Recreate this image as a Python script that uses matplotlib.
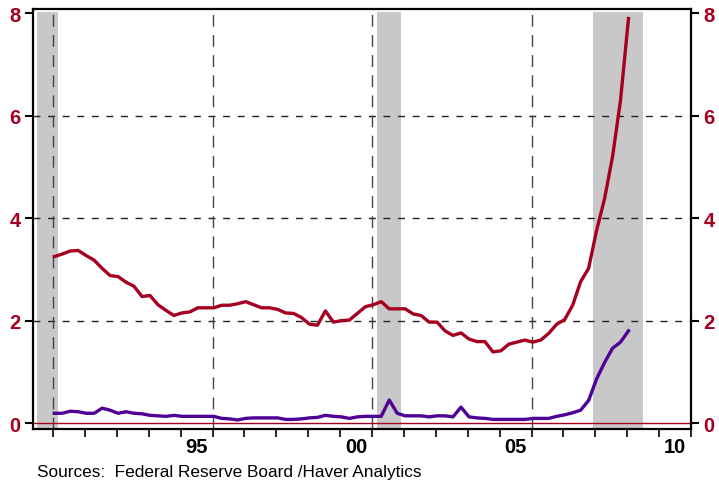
import matplotlib
matplotlib.use('Agg')
import matplotlib.pyplot as plt
import numpy as np

# Quarterly data, 1991Q1 - 2009Q1
start_year = 1991.04
red_vals = [3.25, 3.30, 3.36, 3.37, 3.27, 3.18, 3.02, 2.88, 2.86, 2.75,
            2.67, 2.47, 2.49, 2.31, 2.20, 2.10, 2.15, 2.17, 2.25, 2.25,
            2.25, 2.30, 2.30, 2.33, 2.37, 2.31, 2.25, 2.25, 2.22, 2.15,
            2.14, 2.06, 1.93, 1.91, 2.19, 1.97, 2.00, 2.01, 2.14, 2.27,
            2.31, 2.37, 2.23, 2.23, 2.23, 2.13, 2.10, 1.97, 1.97, 1.80,
            1.71, 1.76, 1.64, 1.59, 1.59, 1.39, 1.41, 1.54, 1.58, 1.62,
            1.58, 1.62, 1.75, 1.93, 2.02, 2.30, 2.76, 3.02, 3.76, 4.38,
            5.20, 6.30, 7.90]
purple_vals = [0.19, 0.19, 0.23, 0.22, 0.19, 0.19, 0.29, 0.25, 0.19, 0.22,
               0.19, 0.18, 0.15, 0.14, 0.13, 0.15, 0.13, 0.13, 0.13, 0.13,
               0.13, 0.09, 0.08, 0.06, 0.09, 0.10, 0.10, 0.10, 0.10, 0.07,
               0.07, 0.08, 0.10, 0.11, 0.15, 0.13, 0.12, 0.09, 0.12, 0.13,
               0.13, 0.13, 0.45, 0.19, 0.14, 0.14, 0.14, 0.12, 0.14, 0.14,
               0.12, 0.31, 0.12, 0.10, 0.09, 0.07, 0.07, 0.07, 0.07, 0.07,
               0.09, 0.09, 0.09, 0.13, 0.16, 0.20, 0.25, 0.44, 0.86, 1.18,
               1.46, 1.58, 1.80]

recessions = [(1990.5, 1991.17), (2001.17, 2001.92), (2007.92, 2009.5)]
year_ticks = list(range(1991, 2012))
vgrid_years = [1991, 1996, 2001, 2006]
label_pos = [1995.5, 2000.5, 2005.5, 2010.5]
label_text = ['95', '00', '05', '10']
y_ticks = [0, 2, 4, 6, 8]
hgrid_vals = [2, 4, 6]

red = '#a50021'
purple = '#4f0096'

x = start_year + 0.25 * np.arange(len(red_vals))

fig = plt.figure(figsize=(7.19, 4.81), dpi=100)
ax = fig.add_axes([33/719, 1-430/481, (691-33)/719, 420/481])
ax.set_xlim(1990.373, 2011.0)
ax.set_ylim(-0.117, 8.086)

for a, b in recessions:
    ax.axvspan(a, b, ymin=0, ymax=0.993, color='#c8c8c8', lw=0, zorder=0)

for v in hgrid_vals:
    ax.axhline(v, color='#222222', lw=1.0, ls=(0, (5, 5.5)), zorder=1)
for v in vgrid_years:
    ax.axvline(v, color='#444444', lw=1.0, ls=(0, (8.5, 6)), zorder=1)

ax.axhline(0, color=red, lw=1.0, zorder=2)
ax.plot(x, red_vals, color=red, lw=2.4, zorder=3, solid_joinstyle='round')
ax.plot(x, purple_vals, color=purple, lw=2.4, zorder=3, solid_joinstyle='round')

for s in ax.spines.values():
    s.set_linewidth(1.6)

ax.set_yticks(y_ticks)
ax.set_yticklabels([str(v) for v in y_ticks])
ax.tick_params(axis='y', which='major', direction='out', length=6, width=1.5,
               pad=3, labelsize=14.5, labelcolor=red, left=True, right=True,
               labelleft=True, labelright=True)
for lab in ax.get_yticklabels():
    lab.set_fontweight('bold')
    lab.set_fontfamily('Liberation Sans')

ax.set_xticks(year_ticks)
ax.set_xticklabels([''] * len(year_ticks))
ax.tick_params(axis='x', which='major', direction='out', length=6, width=1.2)
ax.set_xticks(label_pos, minor=True)
ax.set_xticklabels(label_text, minor=True, fontsize=14.5, fontweight='bold',
                   family='Liberation Sans')
ax.tick_params(axis='x', which='minor', length=0, pad=6)

fig.text(37/719, 1-465/481, 'Sources:  Federal Reserve Board /Haver Analytics',
         fontsize=12.4, family='Liberation Sans', va='top', ha='left')

fig.savefig('out.png', dpi=100)
